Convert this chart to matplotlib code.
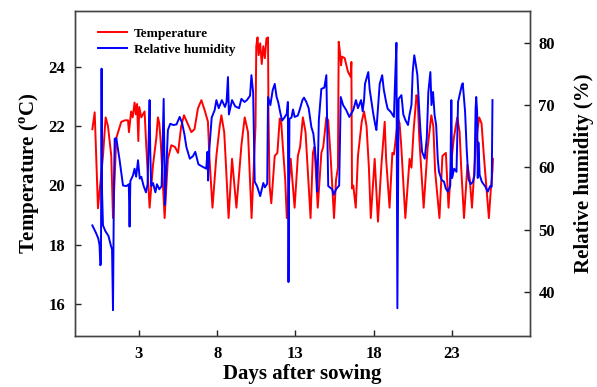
import matplotlib
matplotlib.use('Agg')
import matplotlib.pyplot as plt

plt.rcParams['font.family'] = 'Liberation Serif'
plt.rcParams['font.weight'] = 'bold'
plt.rcParams['mathtext.fontset'] = 'custom'
plt.rcParams['mathtext.rm'] = 'Liberation Serif:bold'
plt.rcParams['mathtext.bf'] = 'Liberation Serif:bold'

# temperature trace (day, degC)
temp_day = [0.02, 0.17, 0.38, 0.70, 0.87, 1.02, 1.23, 1.34, 1.55, 1.87, 2.10, 2.30, 2.36, 2.50, 2.60,
            2.72, 2.80, 2.88, 2.96, 3.02, 3.15, 3.36, 3.45, 3.68, 3.90, 4.11, 4.21, 4.30, 4.40, 4.64,
            4.85, 5.07, 5.30, 5.50, 5.70, 5.88, 6.10, 6.35, 6.55, 6.77, 6.99, 7.20, 7.41, 7.50, 7.70,
            7.95, 8.16, 8.27, 8.45, 8.55, 8.73, 8.95, 9.23, 9.55, 9.76, 9.97, 10.20, 10.35, 10.45, 10.50,
            10.58, 10.65, 10.75, 10.85, 10.95, 11.05, 11.15, 11.25, 11.28, 11.35, 11.46, 11.68, 11.85, 12.00, 12.10,
            12.20, 12.35, 12.45, 12.70, 12.95, 13.16, 13.30, 13.48, 13.65, 13.97, 14.12, 14.22, 14.43, 14.66, 14.78,
            14.98, 15.10, 15.25, 15.47, 15.60, 15.72, 15.77, 15.85, 15.92, 15.98, 16.15, 16.36, 16.53, 16.58, 16.62,
            16.70, 16.86, 17.00, 17.24, 17.39, 17.55, 17.70, 17.82, 18.07, 18.28, 18.50, 18.71, 18.80, 19.02, 19.20,
            19.30, 19.56, 19.66, 19.76, 20.03, 20.30, 20.42, 20.55, 20.74, 20.82, 20.92, 21.20, 21.45, 21.69, 21.82,
            21.93, 22.21, 22.40, 22.62, 22.79, 22.97, 23.13, 23.35, 23.50, 23.60, 23.78, 24.00, 24.15, 24.29, 24.55,
            24.75, 24.90, 25.05, 25.37, 25.50, 25.60, 25.63]
temp_val = [21.9, 22.47, 19.23, 21.0, 22.3, 22.0, 21.0, 18.9, 21.6, 22.15, 22.2, 22.2, 21.8, 22.5, 22.3,
            22.8, 22.4, 22.75, 21.5, 22.65, 22.3, 22.5, 21.5, 19.25, 20.7, 21.6, 22.3, 22.1, 21.4, 18.9,
            20.9, 21.36, 21.3, 21.1, 22.0, 22.37, 22.1, 21.8, 21.9, 22.6, 22.88, 22.54, 22.15, 21.0, 19.25,
            21.0, 22.0, 22.37, 21.8, 20.8, 18.9, 20.9, 19.25, 21.36, 22.3, 21.8, 18.9, 20.8, 22.0, 24.7,
            25.0, 24.4, 24.8, 24.1, 24.7, 24.3, 24.96, 25.0, 22.4, 20.0, 19.4, 21.0, 21.1, 22.26, 22.1,
            21.3, 20.2, 18.9, 20.9, 19.25, 21.0, 21.3, 22.3, 21.8, 18.9, 21.1, 21.3, 19.25, 21.1, 21.3,
            22.3, 22.2, 21.0, 18.9, 20.2, 20.6, 24.85, 24.5, 24.06, 24.35, 24.3, 23.84, 23.67, 24.17, 19.9,
            20.0, 19.25, 21.0, 22.15, 22.5, 22.0, 20.6, 18.9, 20.9, 18.78, 20.7, 22.15, 20.9, 19.25, 21.1,
            21.05, 22.26, 22.1, 21.4, 18.9, 20.9, 20.6, 21.8, 23.05, 22.9, 21.6, 19.25, 21.25, 22.37, 22.0,
            20.5, 18.9, 21.0, 21.1, 19.25, 20.8, 21.6, 22.3, 21.8, 20.6, 18.9, 20.7, 20.2, 19.25, 21.5,
            22.3, 22.1, 21.0, 18.9, 19.9, 20.5, 20.9]

# relative humidity trace (day, %)
rh_day = [0.02, 0.25, 0.40, 0.48, 0.53, 0.57, 0.61, 0.64, 0.70, 0.85, 1.05, 1.20, 1.28, 1.34, 1.40,
          1.45, 1.55, 1.75, 1.98, 2.20, 2.35, 2.40, 2.45, 2.62, 2.72, 2.82, 2.94, 3.05, 3.15, 3.30,
          3.45, 3.55, 3.68, 3.72, 3.78, 3.90, 4.05, 4.15, 4.30, 4.45, 4.58, 4.66, 4.85, 5.00, 5.20,
          5.40, 5.60, 5.75, 5.90, 6.03, 6.25, 6.45, 6.60, 6.80, 7.00, 7.30, 7.38, 7.42, 7.50, 7.65,
          7.84, 7.95, 8.10, 8.30, 8.50, 8.60, 8.69, 8.75, 8.95, 9.15, 9.40, 9.55, 9.75, 9.90, 10.10,
          10.19, 10.30, 10.40, 10.55, 10.75, 10.95, 11.05, 11.20, 11.25, 11.40, 11.55, 11.68, 11.80, 11.90, 12.05,
          12.15, 12.30, 12.45, 12.52, 12.56, 12.62, 12.75, 12.85, 12.95, 13.15, 13.27, 13.45, 13.55, 13.70, 13.85,
          14.02, 14.15, 14.25, 14.34, 14.40, 14.50, 14.66, 14.85, 14.98, 15.05, 15.10, 15.35, 15.45, 15.60, 15.80,
          15.90, 16.05, 16.25, 16.45, 16.70, 16.87, 17.00, 17.20, 17.30, 17.39, 17.45, 17.66, 17.75, 17.85, 17.98,
          18.10, 18.18, 18.39, 18.55, 18.65, 18.80, 18.90, 19.10, 19.30, 19.35, 19.46, 19.52, 19.60, 19.78, 19.90,
          20.05, 20.20, 20.30, 20.42, 20.50, 20.60, 20.70, 20.80, 20.90, 21.00, 21.10, 21.27, 21.40, 21.50, 21.63,
          21.70, 21.80, 21.90, 22.00, 22.10, 22.18, 22.35, 22.50, 22.62, 22.75, 22.90, 22.97, 23.02, 23.15, 23.30,
          23.40, 23.50, 23.64, 23.70, 23.85, 23.95, 24.06, 24.20, 24.35, 24.45, 24.52, 24.56, 24.62, 24.66, 24.70,
          24.78, 24.92, 25.15, 25.30, 25.45, 25.55, 25.60]
rh_val = [50.7, 49.5, 48.6, 47.5, 44.3, 44.6, 75.85, 56.1, 50.7, 49.8, 49.0, 47.5, 46.8, 37.1, 57.0,
          64.6, 64.7, 61.4, 57.1, 57.0, 57.3, 50.5, 57.8, 58.75, 59.8, 58.5, 61.15, 58.2, 58.5, 57.0,
          56.0, 57.3, 70.8, 63.0, 57.0, 57.5, 56.0, 57.3, 56.5, 57.0, 71.0, 54.0, 66.0, 67.0, 66.8,
          66.9, 68.1, 67.2, 65.4, 63.3, 61.4, 61.8, 62.5, 60.5, 60.2, 59.8, 62.5, 57.9, 63.0, 68.0,
          69.2, 70.8, 69.5, 70.8, 69.7, 70.5, 74.5, 68.5, 70.8, 69.8, 69.5, 71.0, 70.5, 70.8, 71.5,
          74.8, 72.0, 57.7, 57.0, 55.4, 57.5, 56.8, 57.4, 71.3, 70.0, 72.4, 73.4, 71.3, 70.5, 68.6,
          67.5, 68.0, 68.6, 70.5, 41.6, 67.8, 68.0, 69.3, 68.1, 68.3, 69.2, 70.8, 71.2, 70.5, 69.5,
          66.5, 65.4, 63.0, 60.1, 56.1, 67.6, 72.6, 72.8, 74.8, 63.8, 57.0, 56.5, 55.6, 56.5, 57.1,
          71.3, 70.0, 69.2, 68.1, 69.2, 70.8, 69.5, 70.8, 69.0, 70.8, 73.4, 75.3, 72.5, 70.8, 68.6,
          66.9, 66.0, 73.4, 74.8, 72.5, 70.5, 69.4, 68.9, 68.1, 72.1, 80.0, 37.4, 71.0, 71.6, 68.5,
          67.5, 66.8, 68.5, 70.0, 75.3, 78.0, 76.5, 74.8, 70.0, 65.7, 62.5, 61.4, 64.7, 72.1, 75.3,
          70.0, 72.1, 68.4, 66.8, 61.4, 59.3, 58.0, 57.7, 56.6, 56.1, 57.0, 70.8, 58.3, 59.8, 59.3,
          70.5, 71.6, 73.2, 73.5, 68.9, 63.0, 58.2, 57.3, 57.7, 58.8, 69.4, 71.3, 68.9, 58.3, 64.0,
          58.8, 57.7, 56.9, 56.1, 57.0, 56.9, 70.8]

xticks = [3, 8, 13, 18, 23]
temp_ticks = [16, 18, 20, 22, 24]
rh_ticks = [40, 50, 60, 70, 80]

fig = plt.figure(figsize=(5.97, 3.87), dpi=100)
ax = fig.add_axes([0.1256, 0.1318, 0.7622, 0.8398])
ax2 = ax.twinx()

l1, = ax.plot(temp_day, temp_val, color='#ff0000', lw=1.4, label='Temperature')
l2, = ax2.plot(rh_day, rh_val, color='#0000ff', lw=1.4, label='Relative humidity')

ax.set_xlim(-1.09, 28.0)
ax.set_ylim(14.92, 25.89)
ax2.set_ylim(32.95, 85.1)
ax.set_xticks(xticks)
ax.set_yticks(temp_ticks)
ax2.set_yticks(rh_ticks)

for a in (ax, ax2):
    a.tick_params(direction='in', length=4, width=1, labelsize=12, colors='#222222')
    for s in a.spines.values():
        s.set_color('#444444')
        s.set_linewidth(1.0)
ax.tick_params(axis='y', labelcolor='black', pad=7)
ax.tick_params(axis='x', labelcolor='black', pad=7)
ax2.tick_params(axis='y', labelcolor='black', pad=6)
for t in ax.get_xticklabels() + ax.get_yticklabels() + ax2.get_yticklabels():
    t.set_fontweight('bold')

ax.set_xlabel('Days after sowing', fontsize=15, fontweight='bold', labelpad=2)
ax.set_ylabel(r'Temperature ($^{\mathbf{o}}$C)', fontsize=15, fontweight='bold', labelpad=5)
ax2.set_ylabel('Relative humidity (%)', fontsize=15, fontweight='bold', labelpad=14)

ax.legend([l1, l2], ['Temperature', 'Relative humidity'], loc='upper left',
          bbox_to_anchor=(0.04, 0.965), frameon=False,
          handlelength=2.2, handletextpad=0.5, labelspacing=0.3, borderaxespad=0,
          prop={'weight': 'bold', 'size': 9.5})

fig.savefig('out.png', dpi=100)
